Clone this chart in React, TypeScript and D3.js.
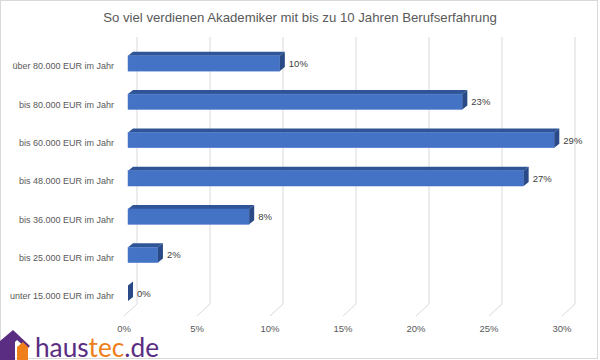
import React from "react";
import * as d3 from "d3";

const title = "So viel verdienen Akademiker mit bis zu 10 Jahren Berufserfahrung";
const categories = [
  "über 80.000 EUR im Jahr",
  "bis 80.000 EUR im Jahr",
  "bis 60.000 EUR im Jahr",
  "bis 48.000 EUR im Jahr",
  "bis 36.000 EUR im Jahr",
  "bis 25.000 EUR im Jahr",
  "unter 15.000 EUR im Jahr",
];
const values = [10.4, 22.9, 29.2, 27.1, 8.3, 2.05, 0];
const ticks = [0, 5, 10, 15, 20, 25, 30];

const W = 600;
const H = 360;
const FONT = "'Liberation Sans', Arial, sans-serif";

export default function App() {
  const x = d3.scaleLinear().domain([0, 30]).range([128, 566]);
  const y = d3
    .scaleBand<string>()
    .domain(categories)
    .range([44.3, 312.4])
    .paddingInner(0.6)
    .paddingOuter(0.3);
  const dx = 5;
  const dy = -4;
  const backDx = 9;
  const wallTop = 37;
  const wallBottom = 304;
  const floorDx = -13;
  const floorDy = 12;

  return (
    <svg
      width={W}
      height={H}
      style={{ position: "absolute", left: 0, top: 0, background: "#fff" }}
      fontFamily={FONT}
    >
      <rect x={0.5} y={0.5} width={597} height={358} fill="#fff" stroke="#d9d9d9" />
      <text x={300} y={22} textAnchor="middle" fontSize={13.2} fill="#595959">
        {title}
      </text>
      {/* gridlines: back wall + floor */}
      {ticks.map((t) => {
        const xb = x(t) + backDx;
        return (
          <g key={t}>
            <line x1={xb} x2={xb} y1={wallTop} y2={wallBottom} stroke="#d9d9d9" strokeWidth={1} />
            <line
              x1={xb}
              y1={wallBottom}
              x2={xb + floorDx}
              y2={wallBottom + floorDy}
              stroke="#d9d9d9"
              strokeWidth={1}
            />
            <text
              x={xb + floorDx}
              y={332}
              textAnchor="middle"
              fontSize={9.5}
              fill="#595959"
            >
              {t}%
            </text>
          </g>
        );
      })}
      {/* bars */}
      {categories.map((c, i) => {
        const v = values[i];
        const x0 = x(0);
        const x1 = x(v);
        const y0 = y(c)!;
        const h = y.bandwidth();
        const top = `${x0},${y0} ${x0 + dx},${y0 + dy} ${x1 + dx},${y0 + dy} ${x1},${y0}`;
        const side = `${x1},${y0} ${x1 + dx},${y0 + dy} ${x1 + dx},${y0 + h + dy} ${x1},${y0 + h}`;
        return (
          <g key={c}>
            <polygon points={top} fill="#2f5597" />
            {x1 > x0 && (
              <rect x={x0} y={y0} width={x1 - x0} height={h} fill="#4472c4" stroke="#4a78c8" strokeWidth={0.5} />
            )}
            <polygon points={side} fill="#294a86" />
            <text
              x={x1 + dx + 4}
              y={y0 + h / 2 + 3.5}
              fontSize={9.5}
              fill="#404040"
            >
              {Math.round(v)}%
            </text>
            <text
              x={114}
              y={y0 + h / 2 + 6}
              textAnchor="end"
              fontSize={9}
              fill="#595959"
            >
              {c}
            </text>
          </g>
        );
      })}
      {/* logo */}
      <g>
        <polygon
          points="0,341 13,330 30,346 27,349 17,340 15,342 15,360 0,360"
          fill="#5a2d82"
        />
        <polygon points="17,347 23,342 28,347 28,360 17,360" fill="#ee7f1a" />
        <text x={35} y={357} fontSize={26} fontFamily="Lato, 'Open Sans', sans-serif" textLength={124} lengthAdjust="spacingAndGlyphs">
          <tspan fill="#5a2d82">haus</tspan>
          <tspan fill="#ee7f1a">tec</tspan>
          <tspan fill="#5a2d82">.de</tspan>
        </text>
      </g>
    </svg>
  );
}
